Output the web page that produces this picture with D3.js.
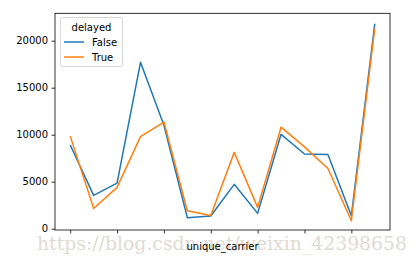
<!DOCTYPE html>
<html><head><meta charset="utf-8">
<script src="https://cdn.jsdelivr.net/npm/d3@7"></script>
<style>body{margin:0;background:#fff}svg{display:block}</style>
</head><body>
<script>
const carriers = ["AA","AS","B6","DL","EV","F9","HA","MQ","NK","OO","UA","US","VX","WN"];
const falseVals = [8900, 3550, 4850, 17700, 11000, 1170, 1350, 4720, 1630, 10040, 7950, 7900, 1380, 21800];
const trueVals  = [9850, 2150, 4400, 9800, 11350, 1900, 1400, 8120, 2270, 10800, 8700, 6400, 850, 21300];
const yTicks = [0, 5000, 10000, 15000, 20000];
const seriesNames = ["False", "True"];
const colors = ["#1f77b4", "#ff7f0e"];

const W = 419, H = 263;
const m = {left: 55, right: 390, top: 13.3, bottom: 230};
const svg = d3.select("body").append("svg").attr("width", W).attr("height", H)
  .style("font-family", "DejaVu Sans, sans-serif");

// watermark (behind)
svg.append("text").attr("x", 37).attr("y", 250).attr("font-size", 19)
  .attr("font-family","DejaVu Serif, Liberation Serif, serif").attr("fill","#dedbd4")
  .attr("textLength", 370).attr("lengthAdjust", "spacingAndGlyphs")
  .text("https://blog.csdn.net/weixin_42398658");

const n = carriers.length;
const x = d3.scaleLinear().domain([-0.05*(n-1), (n-1)*1.05]).range([m.left, m.right]);
const y = d3.scaleLinear().domain([-138, 22915]).range([m.bottom, m.top]);

const line = d3.line().x((d,i)=>x(i)).y(d=>y(d));
[falseVals, trueVals].forEach((vals, k) => {
  svg.append("path").datum(vals).attr("d", line).attr("fill","none")
    .attr("stroke", colors[k]).attr("stroke-width", 1.5).attr("stroke-linejoin","round");
});

// axes
const xAxis = d3.axisBottom(x).tickValues(d3.range(0, n, 2)).tickFormat("").tickSize(3.5).tickSizeOuter(0);
const gx = svg.append("g").attr("transform", `translate(0,${m.bottom})`).call(xAxis);
gx.select(".domain").remove();
gx.selectAll("line").attr("stroke","#000").attr("stroke-width",0.8);

const yAxis = d3.axisLeft(y).tickValues(yTicks).tickFormat(d3.format("d")).tickSize(3.5).tickPadding(3.5);
const gy = svg.append("g").attr("transform", `translate(${m.left},0)`).call(yAxis);
gy.select(".domain").remove();
gy.selectAll("line").attr("stroke","#000").attr("stroke-width",0.8);
gy.selectAll("text").attr("font-size", 10).attr("fill","#000").attr("font-family","DejaVu Sans, sans-serif");

// spines
svg.append("rect").attr("x", m.left).attr("y", m.top).attr("width", m.right-m.left).attr("height", m.bottom-m.top)
  .attr("fill","none").attr("stroke","#000").attr("stroke-width",0.8);

// x label
svg.append("text").attr("x", (m.left+m.right)/2).attr("y", 250).attr("text-anchor","middle")
  .attr("font-size", 10).text("unique_carrier");

// legend
const lg = svg.append("g");
lg.append("rect").attr("x", 60.5).attr("y", 17.5).attr("width", 62).attr("height", 49).attr("rx", 2)
  .attr("fill","#fff").attr("fill-opacity",0.8).attr("stroke","#ccc").attr("stroke-width",0.8);
lg.append("text").attr("x", 91.5).attr("y", 31).attr("text-anchor","middle").attr("font-size",10).text("delayed");
seriesNames.forEach((s,k) => {
  const yy = 42 + k*15;
  lg.append("line").attr("x1", 64).attr("x2", 84).attr("y1", yy).attr("y2", yy)
    .attr("stroke", colors[k]).attr("stroke-width", 1.5);
  lg.append("text").attr("x", 92).attr("y", yy+3.5).attr("font-size",10).text(s);
});
</script>
</body></html>
